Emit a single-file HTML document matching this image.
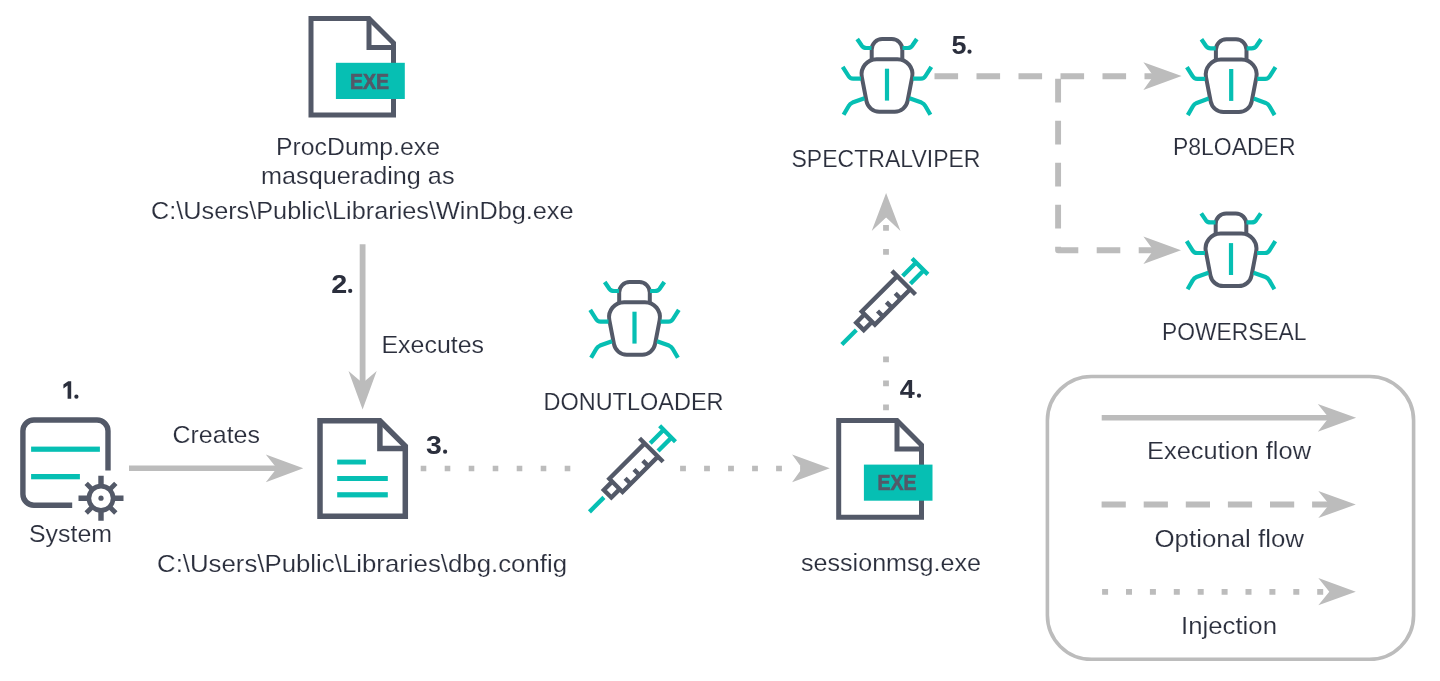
<!DOCTYPE html>
<html><head><meta charset="utf-8"><style>
html,body{margin:0;padding:0;background:#ffffff;}
svg{display:block;will-change:transform;}
text{font-family:"Liberation Sans",sans-serif;fill:#2b2f3d;stroke:#fff;stroke-width:0.15px;}
</style></head><body>
<svg width="1440" height="681" viewBox="0 0 1440 681">


<!-- label 1 -->
<path d="M71.2 381.3 V398.8 H67.6 V385.6 L63.4 388.4 V384.6 L68.2 381.3 Z" fill="#2b2f3d"/>
<circle cx="76.4" cy="396.7" r="2.1" fill="#2b2f3d"/>
<!-- System icon -->
<path d="M108 470.6 V431 A11 11 0 0 0 97 420 H33.9 A11 11 0 0 0 22.9 431 V494.2 A11 11 0 0 0 33.9 505.2 H72.2" fill="none" stroke="#535968" stroke-width="5.4"/>
<rect x="31.1" y="446.6" width="68.8" height="5.2" fill="#06bfb3"/>
<rect x="31.1" y="474" width="48.8" height="5.3" fill="#06bfb3"/>
<g transform="translate(101,498.2)">
<circle r="12.1" fill="none" stroke="#535968" stroke-width="4.6"/>
<circle r="2.6" fill="#535968"/>
<g stroke="#535968">
<path stroke-width="5.4" d="M0 -22.5 V-13 M0 22.5 V13 M-22.5 0 H-13 M22.5 0 H13"/>
<path stroke-width="4.8" d="M-14.8 -14.8 L-9 -9 M14.8 -14.8 L9 -9 M-14.8 14.8 L-9 9 M14.8 14.8 L9 9"/>
</g></g>

<!-- Creates arrow -->
<path d="M129 468.3 H280" stroke="#bcbcbc" stroke-width="5.5"/>
<path d="M303.3 468.3 L265.8 454.40000000000003 L276.8 468.3 L265.8 482.2 Z" fill="#bcbcbc"/>

<!-- Doc config -->
<path d="M320 420.7 H379.9 L405.3 446.1 V516.2 H320 Z" fill="none" stroke="#535968" stroke-width="5.5"/>
<path d="M379.9 420.7 V448.6 H405.3" fill="none" stroke="#535968" stroke-width="5.5"/>
<rect x="337.2" y="459.6" width="28.7" height="4.9" fill="#06bfb3"/>
<rect x="337.2" y="476" width="50.6" height="5" fill="#06bfb3"/>
<rect x="337.2" y="492.2" width="50.6" height="5.2" fill="#06bfb3"/>

<!-- Vertical arrow Executes -->
<path d="M362.6 244.3 V386" stroke="#bcbcbc" stroke-width="5.8"/>
<path d="M362.6 409.5 L348.5 371 L362.6 383 L376.7 371 Z" fill="#bcbcbc"/>

<!-- Doc EXE top -->
<path d="M311 18.5 H369 L393.5 43 V115 H311 Z" fill="none" stroke="#535968" stroke-width="5"/>
<path d="M369 18.5 V47.5 H393.5" fill="none" stroke="#535968" stroke-width="5"/>
<rect x="335.9" y="62.8" width="68.9" height="36.2" fill="#06bfb3"/>
<text x="350" y="88.5" font-weight="bold" font-size="22" style="fill:#535968;stroke:#535968;stroke-width:0.7px" textLength="39" lengthAdjust="spacingAndGlyphs">EXE</text>

<!-- dotted line 3 -->
<path d="M420.7 468.5 H575" stroke="#bcbcbc" stroke-width="5.6" stroke-dasharray="5.6 18.4"/>
<path d="M680.1 468.5 H805" stroke="#bcbcbc" stroke-width="5.6" stroke-dasharray="5.8 18.2"/>
<path d="M829.8 468.3 L792.0999999999999 454.40000000000003 L802.0999999999999 468.3 L792.0999999999999 482.2 Z" fill="#bcbcbc"/>

<!-- Doc EXE sessionmsg -->
<path d="M838.7 420.5 H897 L921.5 445 V517.2 H838.7 Z" fill="none" stroke="#535968" stroke-width="5"/>
<path d="M897 420.5 V449.1 H921.5" fill="none" stroke="#535968" stroke-width="5"/>
<rect x="863.9" y="464.6" width="68.6" height="36.1" fill="#06bfb3"/>
<text x="877.5" y="490.4" font-weight="bold" font-size="22" style="fill:#535968;stroke:#535968;stroke-width:0.7px" textLength="39" lengthAdjust="spacingAndGlyphs">EXE</text>

<!-- vertical dotted line 4 -->
<path d="M886 410.2 V350" stroke="#bcbcbc" stroke-width="5.8" stroke-dasharray="5.8 18.2"/>
<path d="M886 254.8 V220" stroke="#bcbcbc" stroke-width="5.8" stroke-dasharray="5.8 18.2"/>
<path d="M886.1 192.9 L871.7 231.1 L886.1 217.6 L900.5 231.1 Z" fill="#bcbcbc"/>

<!-- dashed lines 5 -->
<path d="M934.5 76.2 H1160" stroke="#bcbcbc" stroke-width="5.9" stroke-dasharray="23.6 18.4"/>
<path d="M1058.1 78.8 V250.2 H1160" fill="none" stroke="#bcbcbc" stroke-width="5.9" stroke-linejoin="round" stroke-dasharray="23.6 18.4"/>
<path d="M1181.6 76.1 L1143.3999999999999 62.3 L1153.3999999999999 76.1 L1143.3999999999999 89.89999999999999 Z" fill="#bcbcbc"/>
<path d="M1181 250.2 L1143.4 236.39999999999998 L1153.4 250.2 L1143.4 264.0 Z" fill="#bcbcbc"/>

<g transform="translate(634.5,280)">
<path d="M-15.3 22 V12.5 A10.5 10.5 0 0 1 -4.8 2 H4.8 A10.5 10.5 0 0 1 15.3 12.5 V22" fill="none" stroke="#535968" stroke-width="4"/>
<path d="M-10.44 22.20 L10.44 22.20 A15 15 0 0 1 25.17 40.03 L20.53 64.16 A13 13 0 0 1 7.76 74.70 L-7.76 74.70 A13 13 0 0 1 -20.53 64.16 L-25.17 40.03 A15 15 0 0 1 -10.44 22.20 Z" fill="none" stroke="#535968" stroke-width="4"/>
<path d="M0 31.7 V63.6" stroke="#06bfb3" stroke-width="4.2"/>
<g fill="none" stroke="#06bfb3" stroke-width="4.2" stroke-linejoin="round">
<path d="M-29.8 2 L-25 9 Q-23.5 11 -20.5 11 H-15.5"/>
<path d="M29.8 2 L25 9 Q23.5 11 20.5 11 H15.5"/>
<path d="M-44.3 29.8 L-38.5 39 Q-37 41.6 -34 41.6 H-26"/>
<path d="M44.3 29.8 L38.5 39 Q37 41.6 34 41.6 H26"/>
<path d="M-22.5 61.3 L-34.5 65.6 Q-37 66.6 -38.3 69 L-43.4 77.8"/>
<path d="M22.5 61.3 L34.5 65.6 Q37 66.6 38.3 69 L43.4 77.8"/>
</g></g>
<g transform="translate(887,37)">
<path d="M-15.3 22 V12.5 A10.5 10.5 0 0 1 -4.8 2 H4.8 A10.5 10.5 0 0 1 15.3 12.5 V22" fill="none" stroke="#535968" stroke-width="4"/>
<path d="M-10.44 22.20 L10.44 22.20 A15 15 0 0 1 25.17 40.03 L20.53 64.16 A13 13 0 0 1 7.76 74.70 L-7.76 74.70 A13 13 0 0 1 -20.53 64.16 L-25.17 40.03 A15 15 0 0 1 -10.44 22.20 Z" fill="none" stroke="#535968" stroke-width="4"/>
<path d="M0 31.7 V63.6" stroke="#06bfb3" stroke-width="4.2"/>
<g fill="none" stroke="#06bfb3" stroke-width="4.2" stroke-linejoin="round">
<path d="M-29.8 2 L-25 9 Q-23.5 11 -20.5 11 H-15.5"/>
<path d="M29.8 2 L25 9 Q23.5 11 20.5 11 H15.5"/>
<path d="M-44.3 29.8 L-38.5 39 Q-37 41.6 -34 41.6 H-26"/>
<path d="M44.3 29.8 L38.5 39 Q37 41.6 34 41.6 H26"/>
<path d="M-22.5 61.3 L-34.5 65.6 Q-37 66.6 -38.3 69 L-43.4 77.8"/>
<path d="M22.5 61.3 L34.5 65.6 Q37 66.6 38.3 69 L43.4 77.8"/>
</g></g>
<g transform="translate(1231.2,37.3)">
<path d="M-15.3 22 V12.5 A10.5 10.5 0 0 1 -4.8 2 H4.8 A10.5 10.5 0 0 1 15.3 12.5 V22" fill="none" stroke="#535968" stroke-width="4"/>
<path d="M-10.44 22.20 L10.44 22.20 A15 15 0 0 1 25.17 40.03 L20.53 64.16 A13 13 0 0 1 7.76 74.70 L-7.76 74.70 A13 13 0 0 1 -20.53 64.16 L-25.17 40.03 A15 15 0 0 1 -10.44 22.20 Z" fill="none" stroke="#535968" stroke-width="4"/>
<path d="M0 31.7 V63.6" stroke="#06bfb3" stroke-width="4.2"/>
<g fill="none" stroke="#06bfb3" stroke-width="4.2" stroke-linejoin="round">
<path d="M-29.8 2 L-25 9 Q-23.5 11 -20.5 11 H-15.5"/>
<path d="M29.8 2 L25 9 Q23.5 11 20.5 11 H15.5"/>
<path d="M-44.3 29.8 L-38.5 39 Q-37 41.6 -34 41.6 H-26"/>
<path d="M44.3 29.8 L38.5 39 Q37 41.6 34 41.6 H26"/>
<path d="M-22.5 61.3 L-34.5 65.6 Q-37 66.6 -38.3 69 L-43.4 77.8"/>
<path d="M22.5 61.3 L34.5 65.6 Q37 66.6 38.3 69 L43.4 77.8"/>
</g></g>
<g transform="translate(1231,211.4)">
<path d="M-15.3 22 V12.5 A10.5 10.5 0 0 1 -4.8 2 H4.8 A10.5 10.5 0 0 1 15.3 12.5 V22" fill="none" stroke="#535968" stroke-width="4"/>
<path d="M-10.44 22.20 L10.44 22.20 A15 15 0 0 1 25.17 40.03 L20.53 64.16 A13 13 0 0 1 7.76 74.70 L-7.76 74.70 A13 13 0 0 1 -20.53 64.16 L-25.17 40.03 A15 15 0 0 1 -10.44 22.20 Z" fill="none" stroke="#535968" stroke-width="4"/>
<path d="M0 31.7 V63.6" stroke="#06bfb3" stroke-width="4.2"/>
<g fill="none" stroke="#06bfb3" stroke-width="4.2" stroke-linejoin="round">
<path d="M-29.8 2 L-25 9 Q-23.5 11 -20.5 11 H-15.5"/>
<path d="M29.8 2 L25 9 Q23.5 11 20.5 11 H15.5"/>
<path d="M-44.3 29.8 L-38.5 39 Q-37 41.6 -34 41.6 H-26"/>
<path d="M44.3 29.8 L38.5 39 Q37 41.6 34 41.6 H26"/>
<path d="M-22.5 61.3 L-34.5 65.6 Q-37 66.6 -38.3 69 L-43.4 77.8"/>
<path d="M22.5 61.3 L34.5 65.6 Q37 66.6 38.3 69 L43.4 77.8"/>
</g></g>

<g transform="translate(651.3,450) rotate(-45)">
<g fill="none" stroke="#535968" stroke-width="4.4" stroke-linejoin="miter">
<path d="M0 -16.7 V16.7"/>
<path d="M0 -9.3 H-50 V9.3 H0"/>
<path d="M-50 -5.3 H-61.8 V5.3 H-50"/>
<path d="M-38.5 9.3 V1.5 M-26 9.3 V1.5 M-13.5 9.3 V1.5"/>
</g>
<g fill="none" stroke="#06bfb3" stroke-width="4.3">
<path d="M-87.5 0 H-67"/>
<path d="M4 -5.5 H23 M4 5.5 H23 M23 -11.2 V11.2"/>
</g></g>
<g transform="translate(903.7,282.7) rotate(-45)">
<g fill="none" stroke="#535968" stroke-width="4.4" stroke-linejoin="miter">
<path d="M0 -16.7 V16.7"/>
<path d="M0 -9.3 H-50 V9.3 H0"/>
<path d="M-50 -5.3 H-61.8 V5.3 H-50"/>
<path d="M-38.5 9.3 V1.5 M-26 9.3 V1.5 M-13.5 9.3 V1.5"/>
</g>
<g fill="none" stroke="#06bfb3" stroke-width="4.3">
<path d="M-87.5 0 H-67"/>
<path d="M4 -5.5 H23 M4 5.5 H23 M23 -11.2 V11.2"/>
</g></g>

<!-- Legend -->
<rect x="1047.4" y="376.5" width="366.2" height="282.8" rx="44" ry="44" fill="none" stroke="#bcbcbc" stroke-width="3.6"/>
<path d="M1101.7 417.8 H1335" stroke="#bcbcbc" stroke-width="5.6"/>
<path d="M1356.1 417.8 L1317.8 403.90000000000003 L1328.8 417.8 L1317.8 431.7 Z" fill="#bcbcbc"/>
<path d="M1101.6 504.5 H1335" stroke="#bcbcbc" stroke-width="5.8" stroke-dasharray="24.2 17.9"/>
<path d="M1355.8 504.5 L1318.3 490.9 L1329.3 504.5 L1318.3 518.1 Z" fill="#bcbcbc"/>
<path d="M1102.1 591.9 H1335" stroke="#bcbcbc" stroke-width="5.7" stroke-dasharray="6 17.9"/>
<path d="M1355.8 591.7 L1318.3 578.1 L1329.3 591.7 L1318.3 605.3000000000001 Z" fill="#bcbcbc"/>

<!-- number labels -->
<g font-weight="bold" font-size="25" style="stroke:none">
<text x="331.3" y="292.5" textLength="16" lengthAdjust="spacingAndGlyphs" style="stroke:none">2</text><circle cx="350.2" cy="290.9" r="2.1" fill="#2b2f3d"/>
<text x="426.1" y="453.6" textLength="15.8" lengthAdjust="spacingAndGlyphs" style="stroke:none">3</text><circle cx="445.1" cy="451.7" r="2.1" fill="#2b2f3d"/>
<text x="899.8" y="397.8" textLength="15" lengthAdjust="spacingAndGlyphs" style="stroke:none">4</text><circle cx="919" cy="395.7" r="2.1" fill="#2b2f3d"/>
<text x="951.4" y="53.5" textLength="15" lengthAdjust="spacingAndGlyphs" style="stroke:none">5</text><circle cx="969.5" cy="51.7" r="2.1" fill="#2b2f3d"/>
</g>
<g font-size="24.6">
<text x="29" y="541.9" textLength="83" lengthAdjust="spacingAndGlyphs">System</text>
<text x="172.5" y="442.9" textLength="87.5" lengthAdjust="spacingAndGlyphs">Creates</text>
<text x="276" y="155.2" textLength="164" lengthAdjust="spacingAndGlyphs">ProcDump.exe</text>
<text x="261" y="184.2" textLength="193.5" lengthAdjust="spacingAndGlyphs">masquerading as</text>
<text x="151" y="218.6" textLength="422.5" lengthAdjust="spacingAndGlyphs">C:\Users\Public\Libraries\WinDbg.exe</text>
<text x="381.5" y="353.2" textLength="102.5" lengthAdjust="spacingAndGlyphs">Executes</text>
<text x="157" y="571.5" textLength="410" lengthAdjust="spacingAndGlyphs">C:\Users\Public\Libraries\dbg.config</text>
<text x="543.5" y="409.9" textLength="180" lengthAdjust="spacingAndGlyphs">DONUTLOADER</text>
<text x="801" y="571.4" textLength="180" lengthAdjust="spacingAndGlyphs">sessionmsg.exe</text>
<text x="791.5" y="167.1" textLength="189" lengthAdjust="spacingAndGlyphs">SPECTRALVIPER</text>
<text x="1173" y="155" textLength="122.5" lengthAdjust="spacingAndGlyphs">P8LOADER</text>
<text x="1162" y="340.1" textLength="144.5" lengthAdjust="spacingAndGlyphs">POWERSEAL</text>
<text x="1147" y="459.4" textLength="164" lengthAdjust="spacingAndGlyphs">Execution flow</text>
<text x="1154.5" y="546.6" textLength="149.5" lengthAdjust="spacingAndGlyphs">Optional flow</text>
<text x="1181" y="633.9" textLength="96" lengthAdjust="spacingAndGlyphs">Injection</text>
</g>
</svg>
</body></html>
